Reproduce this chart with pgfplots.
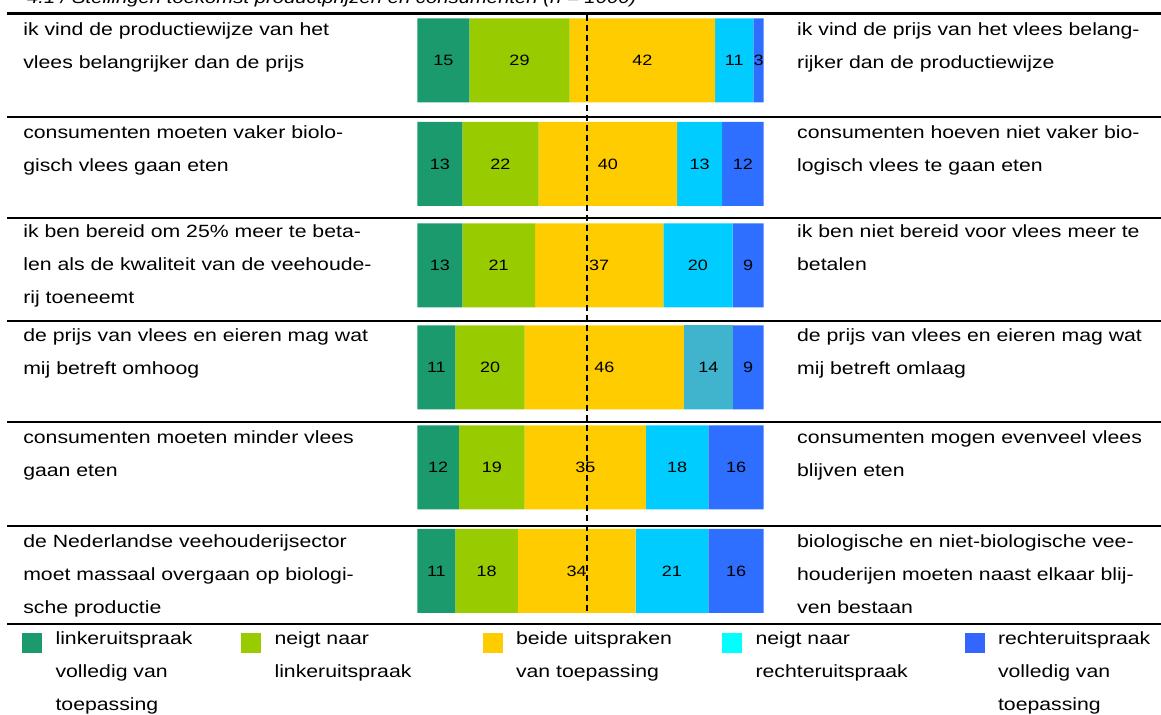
\documentclass[border=0pt]{standalone}
\usepackage{fontspec}
\setmainfont[FakeStretch=1.2]{Liberation Sans}
\usepackage{pgfplots}
\pgfplotsset{compat=1.18}
\definecolor{cG}{HTML}{1B9A6E}
\definecolor{cL}{HTML}{99CC00}
\definecolor{cY}{HTML}{FFCC00}
\definecolor{cC}{HTML}{00CCFF}
\definecolor{cB}{HTML}{2E6FFF}
\definecolor{cT}{HTML}{40B4CC}
\definecolor{lC}{HTML}{00FFFF}
\definecolor{lB}{HTML}{3366FF}
\newcommand\bodyfont{\fontsize{17.7bp}{33bp}\selectfont}
\newcommand\numfont{\fontsize{15bp}{18bp}\selectfont}
\pgfplotsset{base/.style={scale only axis, width=1161bp, height=715bp,
  xmin=-120.47, xmax=214.69, ymin=0, ymax=715, hide axis, clip=false,
  at={(0,0)}, anchor=south west}}
\tikzset{stm/.style={anchor=north west, inner sep=0pt, align=left, font=\bodyfont}}
\begin{document}
\begin{tikzpicture}
% main stacked bars
\begin{axis}[base, xbar stacked, bar width=84]
\addplot[fill=cG, draw=none] coordinates {(15,654.5) (13,551) (13,449.5) (11,347.5) (12,247.5) (11,144)};
\addplot[fill=cL, draw=none] coordinates {(29,654.5) (22,551) (21,449.5) (20,347.5) (19,247.5) (18,144)};
\addplot[fill=cY, draw=none] coordinates {(42,654.5) (40,551) (37,449.5) (46,347.5) (35,247.5) (34,144)};
\addplot[fill=cC, draw=none] coordinates {(11,654.5) (13,551) (20,449.5) (14,347.5) (18,247.5) (21,144)};
\addplot[fill=cB, draw=none] coordinates {(3,654.5) (12,551) (9,449.5) (9,347.5) (16,247.5) (16,144)};
\end{axis}
% row 4 has a different fourth colour
\begin{axis}[base, xbar stacked, bar width=84]
\addplot[fill=none, draw=none] coordinates {(11,347.5)};
\addplot[fill=none, draw=none] coordinates {(20,347.5)};
\addplot[fill=none, draw=none] coordinates {(46,347.5)};
\addplot[fill=cT, draw=none] coordinates {(14,347.5)};
\end{axis}
% labels, texts, rules, legend
\begin{axis}[base,
  legend style={at={(axis cs:-114.1,83)}, anchor=north west, draw=none, fill=none,
    inner sep=0pt, outer sep=0pt, legend columns=5, font=\bodyfont,
    nodes={inner sep=0pt, outer sep=0pt, anchor=base west},
    /tikz/every odd column/.append style={column sep=13.5bp},
    /tikz/every even column/.append style={column sep=0bp}},
  legend cell align=left,
  legend image code/.code={\fill[#1] (0bp,-8bp) rectangle (20bp,12bp);}]
\addplot[only marks, mark=none, forget plot, nodes near coords, point meta=explicit symbolic,
  every node near coord/.append style={anchor=center, inner sep=0pt, font=\numfont}]
  coordinates {
  (7.5,654.5)[15] (29.5,654.5)[29] (65,654.5)[42] (91.5,654.5)[11] (98.5,654.5)[3]
  (6.5,551)[13] (24,551)[22] (55,551)[40] (81.5,551)[13] (94,551)[12]
  (6.5,449.5)[13] (23.5,449.5)[21] (52.5,449.5)[37] (81,449.5)[20] (95.5,449.5)[9]
  (5.5,347.5)[11] (21,347.5)[20] (54,347.5)[46] (84,347.5)[14] (95.5,347.5)[9]
  (6,247.5)[12] (21.5,247.5)[19] (48.5,247.5)[35] (75,247.5)[18] (92,247.5)[16]
  (5.5,144)[11] (20,144)[18] (46,144)[34] (73.5,144)[21] (92,144)[16]
  };
% dashed reference line
\draw[line width=2bp, dash pattern=on 6bp off 4bp] (axis cs:49,700) -- (axis cs:49,102);
% horizontal rules
\draw[line width=2.2bp] (axis cs:-118.45,701.5) -- (axis cs:214.69,701.5);
\draw[line width=2.2bp] (axis cs:-118.45,598) -- (axis cs:214.69,598);
\draw[line width=2.2bp] (axis cs:-118.45,497) -- (axis cs:214.69,497);
\draw[line width=2.2bp] (axis cs:-118.45,394) -- (axis cs:214.69,394);
\draw[line width=2.2bp] (axis cs:-118.45,293) -- (axis cs:214.69,293);
\draw[line width=2.2bp] (axis cs:-118.45,189) -- (axis cs:214.69,189);
\draw[line width=2.2bp] (axis cs:-118.45,91) -- (axis cs:214.69,91);
% title (cut by the page edge, as in the reference)
\node[anchor=base west, inner sep=0pt, font=\fontsize{16.9bp}{20bp}\selectfont\itshape] at (axis cs:-112.7,711)
  {4.1 / Stellingen toekomst productprijzen en consumenten (n = 1000)};
% left statements
\node[stm] at (axis cs:-113.8,692.7) {ik vind de productiewijze van het\\vlees belangrijker dan de prijs};
\node[stm] at (axis cs:-113.8,589.7) {consumenten moeten vaker biolo-\\gisch vlees gaan eten};
\node[stm] at (axis cs:-113.8,490.7) {ik ben bereid om 25\% meer te beta-\\len als de kwaliteit van de veehoude-\\rij toeneemt};
\node[stm] at (axis cs:-113.8,386.7) {de prijs van vlees en eieren mag wat\\mij betreft omhoog};
\node[stm] at (axis cs:-113.8,284.7) {consumenten moeten minder vlees\\gaan eten};
\node[stm] at (axis cs:-113.8,180.7) {de Nederlandse veehouderijsector\\moet massaal overgaan op biologi-\\sche productie};
% right statements
\node[stm] at (axis cs:109.6,692.7) {ik vind de prijs van het vlees belang-\\rijker dan de productiewijze};
\node[stm] at (axis cs:109.6,589.7) {consumenten hoeven niet vaker bio-\\logisch vlees te gaan eten};
\node[stm] at (axis cs:109.6,490.7) {ik ben niet bereid voor vlees meer te\\betalen};
\node[stm] at (axis cs:109.6,386.7) {de prijs van vlees en eieren mag wat\\mij betreft omlaag};
\node[stm] at (axis cs:109.6,284.7) {consumenten mogen evenveel vlees\\blijven eten};
\node[stm] at (axis cs:109.6,180.7) {biologische en niet-biologische vee-\\houderijen moeten naast elkaar blij-\\ven bestaan};
\addlegendimage{fill=cG, draw=none}
\addlegendentry{\parbox[t]{185.5bp}{linkeruitspraak\\volledig van\\toepassing}}
\addlegendimage{fill=cL, draw=none}
\addlegendentry{\parbox[t]{208bp}{neigt naar\\linkeruitspraak}}
\addlegendimage{fill=cY, draw=none}
\addlegendentry{\parbox[t]{206bp}{beide uitspraken\\van toepassing}}
\addlegendimage{fill=lC, draw=none}
\addlegendentry{\parbox[t]{209bp}{neigt naar\\rechteruitspraak}}
\addlegendimage{fill=lB, draw=none}
\addlegendentry{\parbox[t]{150bp}{rechteruitspraak\\volledig van\\toepassing}}
\end{axis}
\pgfresetboundingbox
\path[use as bounding box] (0,0) rectangle (1161bp,715bp);
\end{tikzpicture}
\end{document}
